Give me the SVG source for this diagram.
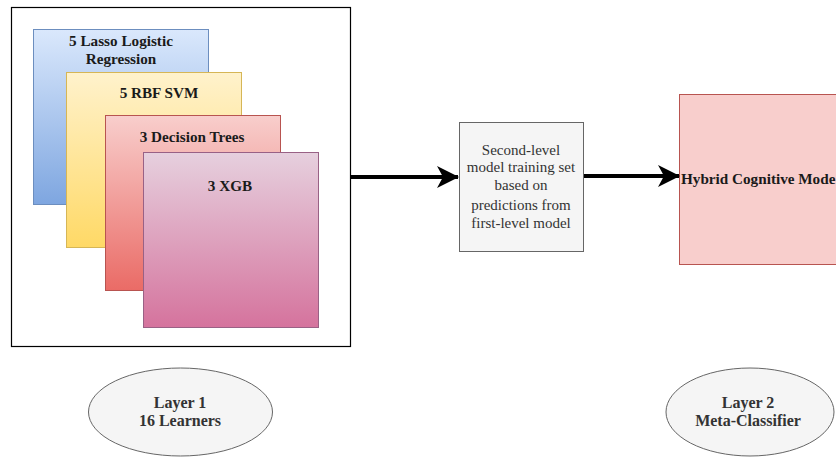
<svg xmlns="http://www.w3.org/2000/svg" width="836" height="458" viewBox="0 0 836 458">
<style>
.t{font-family:"Liberation Serif","Times New Roman",serif;font-weight:bold;font-size:15.2px;fill:#1a1a1a;text-anchor:middle}
.l{font-family:"Liberation Serif","Times New Roman",serif;font-weight:bold;font-size:16px;fill:#333;text-anchor:middle}
.g{font-family:"Liberation Serif","Times New Roman",serif;font-size:15px;fill:#333;text-anchor:middle}
.e{fill:#f5f5f5;stroke:#666;stroke-width:1}
.c{stroke:#000;stroke-width:4;fill:none}
</style>
<defs>
<linearGradient id="gb" x1="0" y1="0" x2="0" y2="1"><stop offset="0" stop-color="#dae8fc"/><stop offset="1" stop-color="#7ea6e0"/></linearGradient>
<linearGradient id="gy" x1="0" y1="0" x2="0" y2="1"><stop offset="0" stop-color="#fff2cc"/><stop offset="1" stop-color="#ffd966"/></linearGradient>
<linearGradient id="gr" x1="0" y1="0" x2="0" y2="1"><stop offset="0" stop-color="#f8cecc"/><stop offset="1" stop-color="#ea6b66"/></linearGradient>
<linearGradient id="gp" x1="0" y1="0" x2="0" y2="1"><stop offset="0" stop-color="#e6d0de"/><stop offset="1" stop-color="#d5739d"/></linearGradient>
<marker id="ah" viewBox="0 0 22 22" refX="21" refY="11" markerWidth="22" markerHeight="22" orient="auto" markerUnits="userSpaceOnUse"><path d="M0,0 L22,11 L0,22 L6,11 z" fill="#000"/></marker>
</defs>
<rect width="836" height="458" fill="#fff"/>
<g id="layer1-box"><rect x="11.5" y="7.5" width="339" height="339" fill="#fff" stroke="#000" stroke-width="1.2"/></g>
<g id="lasso"><rect x="33.5" y="29.5" width="175" height="175" fill="url(#gb)" stroke="#6c8ebf"/>
<text class="t" x="121" y="46">5 Lasso Logistic</text><text class="t" x="121" y="64">Regression</text></g>
<g id="svm"><rect x="66.5" y="72.5" width="175" height="175" fill="url(#gy)" stroke="#d6b656"/>
<text class="t" x="159" y="98">5 RBF SVM</text></g>
<g id="dt"><rect x="105.5" y="115.5" width="175" height="175" fill="url(#gr)" stroke="#b85450"/>
<text class="t" x="192" y="142">3 Decision Trees</text></g>
<g id="xgb"><rect x="143.5" y="152.5" width="175" height="175" fill="url(#gp)" stroke="#996185"/>
<text class="t" x="230" y="191">3 XGB</text></g>
<g id="training-set"><rect x="459.5" y="122.5" width="124" height="129" fill="#f5f5f5" stroke="#666"/>
<text class="g" x="521" y="155">Second-level</text>
<text class="g" x="521" y="172">model training set</text>
<text class="g" x="521" y="190">based on</text>
<text class="g" x="521" y="210">predictions from</text>
<text class="g" x="521" y="228">first-level model</text></g>
<g id="hybrid"><rect x="679.5" y="94.5" width="180" height="170" fill="#f8cecc" stroke="#b85450"/>
<text class="t" x="681" y="184" style="text-anchor:start">Hybrid Cognitive Mode</text></g>
<g id="layer1-label"><ellipse class="e" cx="180.5" cy="412" rx="92" ry="44"/>
<text class="l" x="180" y="408">Layer 1</text><text class="l" x="180" y="426">16 Learners</text></g>
<g id="layer2-label"><ellipse class="e" cx="750" cy="412" rx="84" ry="44"/>
<text class="l" x="748" y="408">Layer 2</text><text class="l" x="748" y="426">Meta-Classifier</text></g>
<g id="connectors">
<line class="c" x1="351" y1="177" x2="458" y2="177" marker-end="url(#ah)"/>
<line class="c" x1="584" y1="176" x2="679" y2="176" marker-end="url(#ah)"/>
</g>
</svg>
